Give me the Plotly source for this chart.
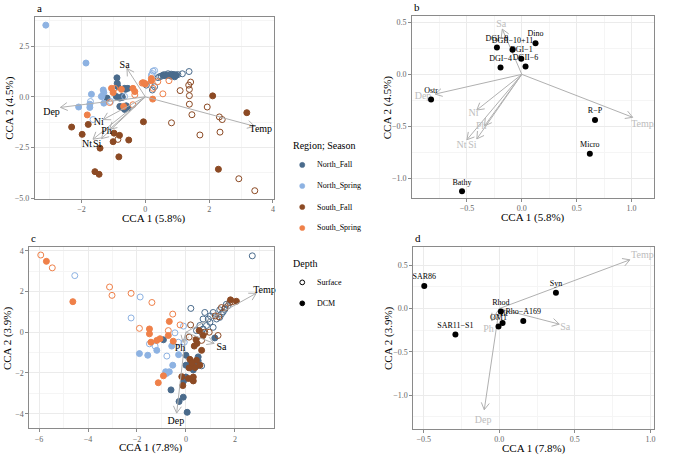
import math
import plotly.graph_objects as go

W, H = 675, 457
FONT = "Liberation Serif"

groups = ["North_Fall", "North_Spring", "South_Fall", "South_Spring"]
group_colors = ["#4A6B8C", "#8DB2E2", "#8C4A24", "#EF8049"]
depths = ["Surface", "DCM"]

# ---------------- Panel a : samples (CCA 1 5.8%, CCA 2 4.5%) ----------------
a_NF_DCM_x = [-0.89, -0.86, -1.2, -0.91, -0.8, -0.62, -0.55, -0.8, -0.54, -0.65, -0.88, -0.65, -0.73, -0.73, 0.55, 0.63, 0.71, 0.81, 0.86, 0.92, 0.97, -0.6]
a_NF_DCM_y = [0.94, 0.5, -0.06, 0.02, -0.06, 0.37, 0.42, -0.47, -0.55, -0.62, 0.67, 0.42, 0.02, -0.52, 1.07, 1.04, 1.07, 1.02, 1.1, 0.99, 1.07, -0.44]
a_NF_SUR_x = [0.5, 0.6, 0.71, 0.81, 0.92, 1.02, 1.16, 1.37, -0.72, 0.29, 0.22, 0.03, 0.4, 0.45]
a_NF_SUR_y = [1.02, 1.1, 1.14, 1.12, 1.1, 1.1, 1.14, 1.25, -0.03, 0.5, 0.34, 0.58, 0.95, 1.0]
a_NS_DCM_x = [-3.12, -1.86, -2.09, -1.74, -1.69, -1.32, -1.3, -1.36, -1.3, -1.74]
a_NS_DCM_y = [3.54, 1.67, -0.5, -0.52, 0.13, 0.34, 0.21, 0.02, -0.31, -0.36]
a_NS_SUR_x = [-1.72, -1.38, -1.64, 0.29, 0.22, 0.24, 0.19, -0.65, -1.09]
a_NS_SUR_y = [-0.23, 0.02, -1.12, 1.3, 1.15, 1.27, 1.07, 0.02, -0.23]
a_SF_DCM_x = [2.11, 3.18, -0.06, 2.29, -2.31, -1.79, -1.98, -0.98, -0.81, -1.01, -0.52, -1.42, -0.83, -1.58, -1.45]
a_SF_DCM_y = [0.05, -0.78, -1.23, -3.57, -1.49, -1.36, -1.85, -1.79, -1.9, -2.21, -2.13, -2.53, -2.96, -3.69, -3.82]
a_SF_SUR_x = [1.42, 1.36, 1.38, 1.09, 1.38, 1.38, 1.46, 1.94, 2.32, 2.41, 0.82, 2.34, 1.71, 2.93, 3.43, -0.86]
a_SF_SUR_y = [0.73, 0.58, 0.37, 0.31, 0.06, -0.36, -0.88, -0.5, -0.99, -1.12, -1.28, -1.74, -1.88, -4.04, -4.63, -2.1]
a_SS_DCM_x = [-1.06, -1.01, -0.75, -0.39, -0.33, 0.0, 0.19, -0.68, -1.82, 0.23, 0.19, -0.07]
a_SS_DCM_y = [0.42, 0.21, 0.37, 0.42, 0.26, 0.63, 0.79, -0.47, -0.89, -0.11, 0.91, 0.7]
a_SS_SUR_x = [-0.96, -0.33, -0.1, 0.39, 0.55, 0.74, -1.12, -0.39, -0.02, 0.24]
a_SS_SUR_y = [0.42, 0.1, 0.68, 0.75, 0.15, 0.8, -0.28, -0.39, 0.67, 0.42]

# ---------------- Panel c : samples (CCA 1 7.8%, CCA 2 3.9%) ----------------
c_NF_DCM_x = [-0.61, -0.28, -0.11, 0.05, 1.18, 0.5, -0.92, 0.0, 0.0, 0.2, 0.35, 0.45, 0.3, 0.0, 0.25, -0.1, 0.5, 0.2, 0.3]
c_NF_DCM_y = [-2.83, -3.4, -3.19, -3.93, -0.28, -1.21, -0.37, -1.13, -1.62, -1.6, -1.62, -1.65, -1.85, -2.2, -2.3, -2.4, -1.4, -1.5, -1.7]
c_NF_SUR_x = [2.71, 0.2, 0.64, 1.25, 1.38, 1.45, 1.52, 1.59, 1.72, 0.98, 0.84, 0.7, 1.11, 0.64, 0.7, 0.91, 1.11, 1.38, 1.65, 0.57, 0.43, 0.77, 1.0]
c_NF_SUR_y = [3.75, 1.17, -1.65, 0.65, 0.73, 0.89, 1.0, 1.13, 1.3, 0.49, 0.33, 0.16, 0.24, 0.0, 0.65, 0.65, 0.97, 1.1, 1.37, 0.33, 0.08, 0.97, 0.8]
c_NS_DCM_x = [-1.9, -1.56, -1.19, -0.54, -0.83, -0.68, -0.58, -0.3, -0.79]
c_NS_DCM_y = [-1.05, -1.13, -0.89, -1.62, -1.94, -1.94, -0.68, -1.1, -2.02]
c_NS_SUR_x = [-4.54, -1.87, -2.24, -1.49, -1.26, -0.78, -0.45, -0.31, -0.07, -0.1]
c_NS_SUR_y = [2.78, 1.73, 0.7, -0.57, -0.68, -1.17, -0.03, -0.49, -0.49, 0.3]
c_SF_DCM_x = [0.54, 0.7, 0.41, 0.34, 0.64, 0.16, 0.43, 0.13, 0.37, 0.57, -0.17, 0.1, 0.3, 0.3, -0.13, 2.06, 1.82, 0.45, 0.25]
c_SF_DCM_y = [0.08, -0.16, -0.36, -0.68, -0.89, -1.33, -1.38, -1.75, -1.73, -1.62, -2.18, -2.27, -2.39, -2.2, -2.62, 1.52, 1.59, -0.55, -1.5]
c_SF_SUR_x = [1.34, 1.79, 1.45, 0.19, 0.13, 0.77, 0.95, 1.31, 0.64, 1.6, 1.2, 1.9]
c_SF_SUR_y = [0.76, 1.46, 1.21, 0.36, -0.24, 0.0, 0.0, -0.16, -0.4, 1.2, 0.8, 1.5]
c_SS_DCM_x = [-5.7, -4.62, -0.68, -1.49, -1.49, -1.43, -1.19, -1.06, -0.72, -0.52, -0.92, -1.13]
c_SS_DCM_y = [3.48, 1.5, 0.53, 0.16, -0.08, -0.49, -0.4, -0.32, -0.16, -0.44, -2.14, -2.48]
c_SS_SUR_x = [-5.93, -5.46, -3.12, -3.02, -2.24, -1.39, -0.54, -1.9, -0.72, -0.24]
c_SS_SUR_y = [3.79, 3.16, 2.22, 1.81, 1.91, 1.46, 0.89, 0.19, 0.08, 0.36]

# ---------------- Environmental arrows ----------------
a_env = ["Sa", "Dep", "Temp", "Ni", "Ph", "Nt", "Si"]
a_env_x = [-0.575, -2.66, 3.42, -1.32, -1.12, -1.64, -1.375]
a_env_y = [1.4, -0.52, -1.45, -1.12, -1.6, -2.09, -2.06]
a_lab_x = [-0.65, -2.94, 3.62, -1.46, -1.22, -1.83, -1.51]
a_lab_y = [1.56, -0.75, -1.61, -1.25, -1.7, -2.34, -2.34]

b_env = ["Sa", "Dep", "Temp", "Ni", "Ph", "Nt", "Si"]
b_env_x = [-0.178, -0.79, 1.01, -0.41, -0.34, -0.5, -0.41]
b_env_y = [0.436, -0.19, -0.414, -0.344, -0.497, -0.63, -0.622]
b_lab_x = [-0.187, -0.9, 1.1, -0.44, -0.37, -0.55, -0.45]
b_lab_y = [0.478, -0.217, -0.48, -0.38, -0.5, -0.69, -0.69]

c_env = ["Temp", "Sa", "Ph", "Dep"]
c_env_x = [2.87, 1.15, -0.12, -0.38]
c_env_y = [1.91, -0.55, -0.5, -3.97]
c_lab_x = [3.21, 1.45, -0.24, -0.41]
c_lab_y = [2.05, -0.73, -0.81, -4.37]

d_env = ["Temp", "Sa", "Ph", "Dep"]
d_env_x = [0.864, 0.397, -0.05, -0.099]
d_env_y = [0.564, -0.18, -0.14, -1.17]
d_lab_x = [0.947, 0.436, -0.071, -0.106]
d_lab_y = [0.614, -0.217, -0.244, -1.30]

# ---------------- Taxa scores ----------------
b_taxa = ["Dino", "DGI−8", "DGII−10+11", "DGI−1", "DGI−4", "DGII−6", "Ostr", "R−P", "Micro", "Bathy"]
b_taxa_x = [0.125, -0.227, -0.085, -0.005, -0.194, 0.034, -0.827, 0.667, 0.62, -0.545]
b_taxa_y = [0.30, 0.258, 0.236, 0.15, 0.067, 0.076, -0.242, -0.44, -0.764, -1.127]

d_taxa = ["SAR86", "Syn", "Rhod", "OM1", "Alt", "Rho−A169", "SAR11−S1"]
d_taxa_x = [-0.496, 0.375, 0.011, -0.005, 0.022, 0.159, -0.29]
d_taxa_y = [0.26, 0.183, -0.034, -0.206, -0.168, -0.145, -0.30]

# ---------------- Panel geometry (pixels) ----------------
panels = {
    "a": dict(px=(35, 274), py=(16, 200), xr=(-3.46, 4.02), yr=(-5.03, 3.95),
              xt=[-2, 0, 2, 4], xm=[-3, -1, 1, 3], yt=[-5, -2.5, 0, 2.5], ym=[-3.75, -1.25, 1.25, 3.75],
              xf=".0f", yf=".1f", xtitle="CCA 1 (5.8%)", ytitle="CCA 2 (4.5%)", ytx=10),
    "b": dict(px=(412.7, 655), py=(15, 199), xr=(-1.0, 1.205), yr=(-1.19, 0.564),
              xt=[-0.5, 0, 0.5, 1.0], xm=[-0.75, -0.25, 0.25, 0.75], yt=[-1.0, -0.5, 0, 0.5], ym=[-0.75, -0.25, 0.25],
              xf=".1f", yf=".1f", xtitle="CCA 1 (5.8%)", ytitle="CCA 2 (4.5%)", ytx=388),
    "c": dict(px=(29.3, 274), py=(249, 431.7), xr=(-6.4, 3.58), yr=(-4.7, 4.17),
              xt=[-6, -4, -2, 0, 2], xm=[-5, -3, -1, 1, 3], yt=[-4, -2, 0, 2, 4], ym=[-3, -1, 1, 3],
              xf=".0f", yf=".0f", xtitle="CCA 1 (7.8%)", ytitle="CCA 2 (3.9%)", ytx=7.5),
    "d": dict(px=(414, 655), py=(248.3, 432.3), xr=(-0.568, 1.024), yr=(-1.388, 0.717),
              xt=[-0.5, 0, 0.5, 1.0], xm=[-0.25, 0.25, 0.75], yt=[-1.0, -0.5, 0, 0.5], ym=[-1.25, -0.75, -0.25, 0.25],
              xf=".1f", yf=".1f", xtitle="CCA 1 (7.8%)", ytitle="CCA 2 (3.9%)", ytx=389),
}
order = ["a", "b", "c", "d"]

fig = go.Figure()
layout = dict(width=W, height=H, margin=dict(l=0, r=0, t=0, b=0),
              paper_bgcolor="white", plot_bgcolor="white", showlegend=False,
              font=dict(family=FONT, size=8, color="black"))
annotations = []
shapes = []

for i, k in enumerate(order):
    p = panels[k]
    sfx = "" if i == 0 else str(i + 1)
    common = dict(showline=True, mirror=True, linecolor="#8a8a8a", linewidth=1,
                  ticks="outside", ticklen=3, tickcolor="#8a8a8a", tickwidth=1,
                  showgrid=True, gridcolor="#ebebeb", gridwidth=1, zeroline=False,
                  tickfont=dict(family=FONT, size=8, color="#666666"))
    layout["xaxis" + sfx] = dict(common, domain=[p["px"][0] / W, p["px"][1] / W], range=list(p["xr"]),
                                 tickvals=p["xt"], tickformat=p["xf"],
                                 minor=dict(tickvals=p["xm"], showgrid=True, gridcolor="#f5f5f5", ticks=""),
                                 anchor="y" + sfx)
    layout["yaxis" + sfx] = dict(common, domain=[1 - p["py"][1] / H, 1 - p["py"][0] / H], range=list(p["yr"]),
                                 tickvals=p["yt"], tickformat=p["yf"],
                                 minor=dict(tickvals=p["ym"], showgrid=True, gridcolor="#f5f5f5", ticks=""),
                                 anchor="x" + sfx)
    p["ax"] = ("x" + sfx, "y" + sfx)
    p["sx"] = (p["px"][1] - p["px"][0]) / (p["xr"][1] - p["xr"][0])
    p["sy"] = (p["py"][1] - p["py"][0]) / (p["yr"][1] - p["yr"][0])
    # panel letter
    annotations.append(dict(text=k, x=p["px"][0] / W, y=1 - (p["py"][0] - 9) / H, xref="paper", yref="paper",
                            xanchor="left", yanchor="middle", showarrow=False,
                            font=dict(family=FONT, size=11, color="black")))
    # axis titles
    cx = (p["px"][0] + p["px"][1]) / 2
    cy = (p["py"][0] + p["py"][1]) / 2
    annotations.append(dict(text=p["xtitle"], x=cx / W, y=1 - (p["py"][1] + 20) / H, xref="paper", yref="paper",
                            xanchor="center", yanchor="middle", showarrow=False,
                            font=dict(family=FONT, size=11, color="black")))
    annotations.append(dict(text=p["ytitle"], x=p["ytx"] / W, y=1 - cy / H, xref="paper", yref="paper",
                            xanchor="center", yanchor="middle", showarrow=False, textangle=-90,
                            font=dict(family=FONT, size=11, color="black")))


def add_samples(p, data):
    xa, ya = p["ax"]
    for g, col in zip(groups, group_colors):
        for dep in depths:
            xs, ys = data[(g, dep)]
            fig.add_trace(go.Scatter(
                x=xs, y=ys, mode="markers", xaxis=xa, yaxis=ya, name=g + " " + dep,
                marker=dict(size=6, color=col,
                            symbol="circle-open" if dep == "Surface" else "circle",
                            line=dict(width=1, color=col))))


def add_arrows(p, tx, ty, color="#b0b0b0", L=8.0, ang=30.0):
    xa, ya = p["ax"]
    xs, ys = [], []
    for x1, y1 in zip(tx, ty):
        xs += [0, x1, None]
        ys += [0, y1, None]
        dxp, dyp = x1 * p["sx"], y1 * p["sy"]
        n = math.hypot(dxp, dyp)
        ux, uy = dxp / n, dyp / n
        pts = []
        for s in (1, -1):
            a = math.radians(ang * s)
            rx = ux * math.cos(a) - uy * math.sin(a)
            ry = ux * math.sin(a) + uy * math.cos(a)
            pts.append((x1 - L * rx / p["sx"], y1 - L * ry / p["sy"]))
        xs += [pts[0][0], x1, pts[1][0], None]
        ys += [pts[0][1], y1, pts[1][1], None]
    fig.add_trace(go.Scatter(x=xs, y=ys, mode="lines", xaxis=xa, yaxis=ya,
                             line=dict(color=color, width=1), hoverinfo="skip", cliponaxis=False))


def add_text(p, names, lx, ly, color, size):
    xa, ya = p["ax"]
    fig.add_trace(go.Scatter(x=lx, y=ly, text=names, mode="text", xaxis=xa, yaxis=ya,
                             textfont=dict(family=FONT, size=size, color=color), cliponaxis=False))


def add_taxa(p, names, xs, ys):
    xa, ya = p["ax"]
    fig.add_trace(go.Scatter(x=xs, y=ys, text=names, mode="markers+text", textposition="top center",
                             xaxis=xa, yaxis=ya, marker=dict(size=6, color="black"),
                             textfont=dict(family=FONT, size=8, color="black"), cliponaxis=False))


a_data = {("North_Fall", "DCM"): (a_NF_DCM_x, a_NF_DCM_y), ("North_Fall", "Surface"): (a_NF_SUR_x, a_NF_SUR_y),
          ("North_Spring", "DCM"): (a_NS_DCM_x, a_NS_DCM_y), ("North_Spring", "Surface"): (a_NS_SUR_x, a_NS_SUR_y),
          ("South_Fall", "DCM"): (a_SF_DCM_x, a_SF_DCM_y), ("South_Fall", "Surface"): (a_SF_SUR_x, a_SF_SUR_y),
          ("South_Spring", "DCM"): (a_SS_DCM_x, a_SS_DCM_y), ("South_Spring", "Surface"): (a_SS_SUR_x, a_SS_SUR_y)}
c_data = {("North_Fall", "DCM"): (c_NF_DCM_x, c_NF_DCM_y), ("North_Fall", "Surface"): (c_NF_SUR_x, c_NF_SUR_y),
          ("North_Spring", "DCM"): (c_NS_DCM_x, c_NS_DCM_y), ("North_Spring", "Surface"): (c_NS_SUR_x, c_NS_SUR_y),
          ("South_Fall", "DCM"): (c_SF_DCM_x, c_SF_DCM_y), ("South_Fall", "Surface"): (c_SF_SUR_x, c_SF_SUR_y),
          ("South_Spring", "DCM"): (c_SS_DCM_x, c_SS_DCM_y), ("South_Spring", "Surface"): (c_SS_SUR_x, c_SS_SUR_y)}

# Panel a
add_samples(panels["a"], a_data)
add_arrows(panels["a"], a_env_x, a_env_y)
add_text(panels["a"], a_env, a_lab_x, a_lab_y, "black", 10)
# Panel b
add_arrows(panels["b"], b_env_x, b_env_y)
add_text(panels["b"], b_env, b_lab_x, b_lab_y, "#bdbdbd", 10)
add_taxa(panels["b"], b_taxa, b_taxa_x, b_taxa_y)
# Panel c
add_samples(panels["c"], c_data)
add_arrows(panels["c"], c_env_x, c_env_y)
add_text(panels["c"], c_env, c_lab_x, c_lab_y, "black", 10)
# Panel d
add_arrows(panels["d"], d_env_x, d_env_y)
add_text(panels["d"], d_env, d_lab_x, d_lab_y, "#bdbdbd", 10)
add_taxa(panels["d"], d_taxa, d_taxa_x, d_taxa_y)

# ---------------- Legend (drawn as keys + text) ----------------
leg_x_title = 291.7
key_x = 302.7
txt_x = 315.7
annotations.append(dict(text="Region; Season", x=leg_x_title / W, y=1 - 146 / H, xref="paper", yref="paper",
                        xanchor="left", yanchor="middle", showarrow=False,
                        font=dict(family=FONT, size=10, color="black")))
reg_y = [165.7, 187.0, 208.3, 229.5]
for g, col, yy in zip(groups, group_colors, reg_y):
    r = 2.6
    shapes.append(dict(type="circle", xref="paper", yref="paper",
                       x0=(key_x - r) / W, x1=(key_x + r) / W, y0=1 - (yy + r) / H, y1=1 - (yy - r) / H,
                       fillcolor=col, line=dict(color=col, width=0.5)))
    annotations.append(dict(text=g, x=txt_x / W, y=1 - yy / H, xref="paper", yref="paper",
                            xanchor="left", yanchor="middle", showarrow=False,
                            font=dict(family=FONT, size=8, color="black")))
annotations.append(dict(text="Depth", x=leg_x_title / W, y=1 - 265 / H, xref="paper", yref="paper",
                        xanchor="left", yanchor="middle", showarrow=False,
                        font=dict(family=FONT, size=10, color="black")))
dep_y = [284.5, 305.7]
for dep, yy in zip(depths, dep_y):
    r = 2.4
    shapes.append(dict(type="circle", xref="paper", yref="paper",
                       x0=(key_x - r) / W, x1=(key_x + r) / W, y0=1 - (yy + r) / H, y1=1 - (yy - r) / H,
                       fillcolor="white" if dep == "Surface" else "black", line=dict(color="black", width=1)))
    annotations.append(dict(text=dep, x=txt_x / W, y=1 - yy / H, xref="paper", yref="paper",
                            xanchor="left", yanchor="middle", showarrow=False,
                            font=dict(family=FONT, size=8, color="black")))

layout["annotations"] = annotations
layout["shapes"] = shapes
fig.update_layout(**layout)
fig.write_html("out.html", config={"displayModeBar": False})

# remove the browser's default page margin so the figure fills the window exactly
with open("out.html", "r", encoding="utf-8") as fh:
    html = fh.read()
html = html.replace("<head>", "<head><style>html,body{margin:0;padding:0;overflow:hidden;}</style>", 1)
with open("out.html", "w", encoding="utf-8") as fh:
    fh.write(html)
